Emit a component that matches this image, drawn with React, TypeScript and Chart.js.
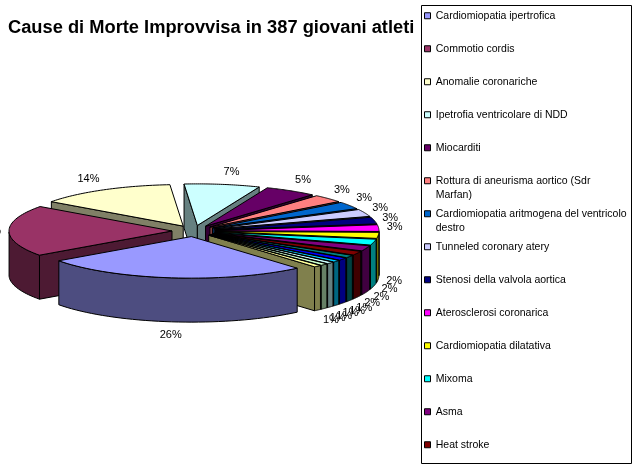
import React, { useEffect, useRef } from "react";
import { Chart, registerables } from "chart.js";

Chart.register(...registerables);

const titleText = "Cause di Morte Improvvisa in 387 giovani atleti";
const legendLines: string[][] = [
  ["Cardiomiopatia ipertrofica"],
  ["Commotio cordis"],
  ["Anomalie coronariche"],
  ["Ipetrofia ventricolare di NDD"],
  ["Miocarditi"],
  ["Rottura di aneurisma aortico (Sdr", "Marfan)"],
  ["Cardiomiopatia aritmogena del ventricolo", "destro"],
  ["Tunneled coronary atery"],
  ["Stenosi della valvola aortica"],
  ["Aterosclerosi coronarica"],
  ["Cardiomiopatia dilatativa"],
  ["Mixoma"],
  ["Asma"],
  ["Heat stroke"],
];
const values = [102, 77, 53, 29, 20, 12, 11, 11, 10, 10, 9, 9, 8, 6, 4, 4, 3, 3, 3, 3];
const colors = [
  "#9999FF", "#993366", "#FFFFCC", "#CCFFFF", "#660066", "#FF8080", "#0066CC", "#CCCCFF", "#000080", "#FF00FF",
  "#FFFF00", "#00FFFF", "#800080", "#800000", "#008080", "#0000FF", "#00CCFF", "#CCFFFF", "#CCFFCC", "#FFFF99",
];

const CX = 194;
const CY = 231;
const SQUASH = 0.255;
const DEPTH = 44;
const EXPLODE = 22;

function darker(hex: string) {
  const n = parseInt(hex.slice(1), 16);
  const c = [(n >> 16) & 255, (n >> 8) & 255, n & 255].map((v) => Math.round(v / 2));
  return `rgb(${c[0]},${c[1]},${c[2]})`;
}

function geometry(arc: any) {
  const p = arc.getProps(["x", "y", "startAngle", "endAngle", "outerRadius"], true);
  const mid = (p.startAngle + p.endAngle) / 2;
  const ox = Math.cos(mid) * EXPLODE;
  const oy = Math.sin(mid) * EXPLODE;
  const R = p.outerRadius as number;
  const at = (angle: number, r: number, down = 0) => ({
    x: CX + ox + r * Math.cos(angle),
    y: CY + SQUASH * (oy + r * Math.sin(angle)) + down,
  });
  return { ...p, mid, ox, oy, at, R };
}

function poly(ctx: CanvasRenderingContext2D, pts: { x: number; y: number }[], fill?: string) {
  ctx.beginPath();
  pts.forEach((q, i) => (i ? ctx.lineTo(q.x, q.y) : ctx.moveTo(q.x, q.y)));
  ctx.closePath();
  if (fill) {
    ctx.fillStyle = fill;
    ctx.fill();
  }
  ctx.stroke();
}

const pie3d = {
  id: "pie3d",
  afterLayout(chart: any) {
    const legend = chart.legend;
    legend.update(260, 600, { left: 0, right: 0, top: 0, bottom: 0 });
    legend.left = 419.5;
    legend.right = 643;
    legend.top = 5.5;
    legend.bottom = 600;
  },
  beforeDatasetDraw(chart: any) {
    const ctx: CanvasRenderingContext2D = chart.ctx;
    const arcs = chart.getDatasetMeta(0).data;
    const total = values.reduce((a, b) => a + b, 0);
    ctx.save();
    ctx.strokeStyle = "#000";
    ctx.lineWidth = 1;
    ctx.lineJoin = "bevel";

    // side walls, back to front
    const order = arcs.map((a: any, i: number) => ({ i, g: geometry(a) }));
    order.sort((a: any, b: any) => Math.sin(a.g.mid) - Math.sin(b.g.mid));
    for (const { i, g } of order) {
      const dark = darker(colors[i]);
      const edge = (angle: number) => {
        poly(ctx, [g.at(angle, 0), g.at(angle, g.R), g.at(angle, g.R, DEPTH), g.at(angle, 0, DEPTH)], dark);
      };
      if (Math.cos(g.startAngle) < 0) edge(g.startAngle);
      if (Math.cos(g.endAngle) > 0) edge(g.endAngle);
      const top: { x: number; y: number }[] = [];
      const bottom: { x: number; y: number }[] = [];
      const steps = 40;
      for (let s = 0; s <= steps; s++) {
        const t = g.startAngle + ((g.endAngle - g.startAngle) * s) / steps;
        if (Math.sin(t) >= 0) {
          top.push(g.at(t, g.R));
          bottom.unshift(g.at(t, g.R, DEPTH));
        }
      }
      if (top.length > 1) poly(ctx, [...top, ...bottom], dark);
    }

    // top faces: the library's own arcs, squashed and pulled apart
    arcs.forEach((arc: any) => {
      const g = geometry(arc);
      ctx.save();
      ctx.translate(CX, CY);
      ctx.scale(1, SQUASH);
      ctx.translate(g.ox - g.x, g.oy - g.y);
      arc.draw(ctx);
      ctx.restore();
    });

    // crisp outlines of the top faces
    ctx.strokeStyle = "#000";
    ctx.lineWidth = 1;
    arcs.forEach((arc: any) => {
      const g = geometry(arc);
      const pts = [g.at(0, 0)];
      for (let s = 0; s <= 40; s++) pts.push(g.at(g.startAngle + ((g.endAngle - g.startAngle) * s) / 40, g.R));
      poly(ctx, pts);
    });

    // percentage labels
    ctx.fillStyle = "#000";
    ctx.font = "11px 'Liberation Sans'";
    ctx.textBaseline = "middle";
    arcs.forEach((arc: any, i: number) => {
      const g = geometry(arc);
      const c = Math.cos(g.mid);
      const s = Math.sin(g.mid);
      const b = g.at(g.mid, g.R, s > 0.05 ? DEPTH : 0);
      ctx.textAlign = c > 0.15 ? "left" : c < -0.15 ? "right" : "center";
      ctx.fillText(`${Math.round((values[i] / total) * 100)}%`, b.x + c * 8, b.y + s * 13);
    });

    // legend frame
    ctx.strokeRect(421.5, 5.5, 210, 458);
    ctx.restore();
    return false;
  },
};

export default function App() {
  const ref = useRef<HTMLCanvasElement>(null);
  useEffect(() => {
    if (!ref.current) return;
    const chart = new Chart(ref.current, {
      type: "pie",
      data: {
        labels: legendLines.map((l) => l.join(" ")),
        datasets: [
          {
            data: values,
            backgroundColor: colors,
            borderWidth: 0,
            clip: false,
          } as any,
        ],
      },
      options: {
        responsive: false,
        animation: false,
        devicePixelRatio: 1,
        rotation: 139.5,
        radius: 163,
        layout: { padding: { left: 8, top: 0, right: 0, bottom: 0 } },
        plugins: {
          tooltip: { enabled: false },
          title: {
            display: true,
            text: titleText,
            align: "start",
            color: "#000",
            font: { family: "'Liberation Sans'", size: 18.3, weight: "bold", lineHeight: 1.2 },
            padding: { top: 16.5, bottom: 6 },
          },
          legend: {
            display: true,
            position: "right",
            align: "start",
            labels: {
              color: "#000",
              boxWidth: 6,
              boxHeight: 6,
              padding: 5,
              font: { family: "'Liberation Sans'", size: 10.5, lineHeight: "14px" },
              generateLabels: () =>
                legendLines.map((l, i) => ({
                  text: l.length > 1 ? l : [l[0], ""],
                  fillStyle: colors[i],
                  strokeStyle: "#000",
                  lineWidth: 1,
                  hidden: false,
                  index: i,
                })) as any,
            },
          },
        },
      } as any,
      plugins: [pie3d as any],
    });
    return () => chart.destroy();
  }, []);
  return (
    <div style={{ position: "absolute", left: 0, top: 0, width: 643, height: 469 }}>
      <canvas ref={ref} width={643} height={469} style={{ display: "block" }} />
    </div>
  );
}
